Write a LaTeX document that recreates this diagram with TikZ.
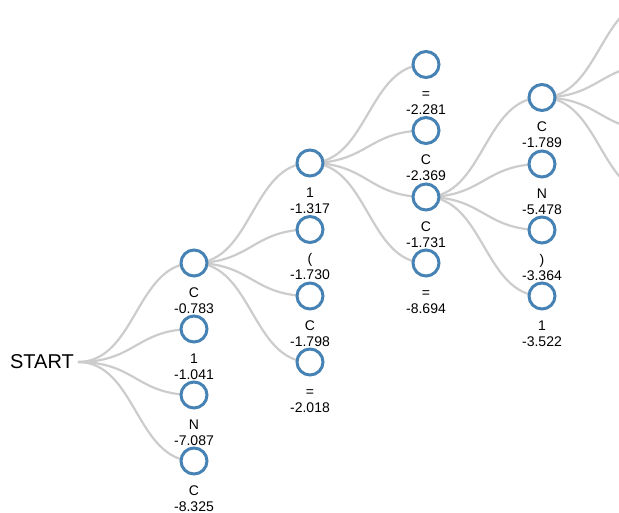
\documentclass[tikz,border=0pt]{standalone}
\usepackage{fontspec}
\setmainfont{Liberation Sans}
\usetikzlibrary{calc,backgrounds}

\definecolor{ringblue}{HTML}{4682B4}
\definecolor{linkgray}{HTML}{CCCCCC}

\tikzset{
  dot/.style={circle, draw=ringblue, line width=3pt, fill=white,
              inner sep=0pt, minimum size=26pt},
  sym/.style={anchor=base, inner sep=0pt, font=\fontsize{14}{16}\selectfont},
  val/.style={anchor=base, inner sep=0pt, font=\fontsize{14}{16}\selectfont},
  rootlabel/.style={anchor=east, inner xsep=4pt, inner ysep=0pt,
                    font=\fontsize{20}{24}\selectfont},
  link/.style={draw=linkgray, line width=2.2pt},
}

% tree node: name, x, y, symbol, score
\newcommand\treenode[5]{%
  \node[dot] (#1) at (#2,#3) {};
  \node[sym] (#1-s) at ($(#1.center)+(0,34)$) {#4};
  \node[val] (#1-v) at ($(#1.center)+(0,50)$) {#5};
}
% horizontal diagonal link between two named points
\newcommand\lnk[2]{%
  \draw[link] (#1) .. controls ($(#1)!0.5!(#2 |- #1)$)
                    and ($(#2)!0.5!(#1 |- #2)$) .. (#2);
}

\begin{document}
\begin{tikzpicture}[x=1pt, y=-1pt]
  \useasboundingbox (0,0) rectangle (619,512);

  % root
  \node[rootlabel] (start) at (78,362) {START};

  % depth 1
  \treenode{a1}{194}{263}{C}{-0.783}
  \treenode{a2}{194}{329}{1}{-1.041}
  \treenode{a3}{194}{395}{N}{-7.087}
  \treenode{a4}{194}{461}{C}{-8.325}

  % depth 2
  \treenode{b1}{310}{163}{1}{-1.317}
  \treenode{b2}{310}{229.5}{(}{-1.730}
  \treenode{b3}{310}{296}{C}{-1.798}
  \treenode{b4}{310}{362}{=}{-2.018}

  % depth 3
  \treenode{c1}{426}{64.5}{=}{-2.281}
  \treenode{c2}{426}{130.5}{C}{-2.369}
  \treenode{c3}{426}{197}{C}{-1.731}
  \treenode{c4}{426}{263}{=}{-8.694}

  % depth 4
  \treenode{d1}{542}{97.5}{C}{-1.789}
  \treenode{d2}{542}{164}{N}{-5.478}
  \treenode{d3}{542}{230}{)}{-3.364}
  \treenode{d4}{542}{296}{1}{-3.522}

  % depth 5 lies past the right edge
  \coordinate (e1) at (658,-1.5);
  \coordinate (e2) at (658,64.5);
  \coordinate (e3) at (658,130.5);
  \coordinate (e4) at (658,196.5);

  \begin{scope}[on background layer]
    \clip (0,0) rectangle (619,512);
    \lnk{start.east}{a1.center}
    \lnk{start.east}{a2.center}
    \lnk{start.east}{a3.center}
    \lnk{start.east}{a4.center}
    \lnk{a1.center}{b1.center}
    \lnk{a1.center}{b2.center}
    \lnk{a1.center}{b3.center}
    \lnk{a1.center}{b4.center}
    \lnk{b1.center}{c1.center}
    \lnk{b1.center}{c2.center}
    \lnk{b1.center}{c3.center}
    \lnk{b1.center}{c4.center}
    \lnk{c3.center}{d1.center}
    \lnk{c3.center}{d2.center}
    \lnk{c3.center}{d3.center}
    \lnk{c3.center}{d4.center}
    \lnk{d1.center}{e1}
    \lnk{d1.center}{e2}
    \lnk{d1.center}{e3}
    \lnk{d1.center}{e4}
  \end{scope}
\end{tikzpicture}
\end{document}
